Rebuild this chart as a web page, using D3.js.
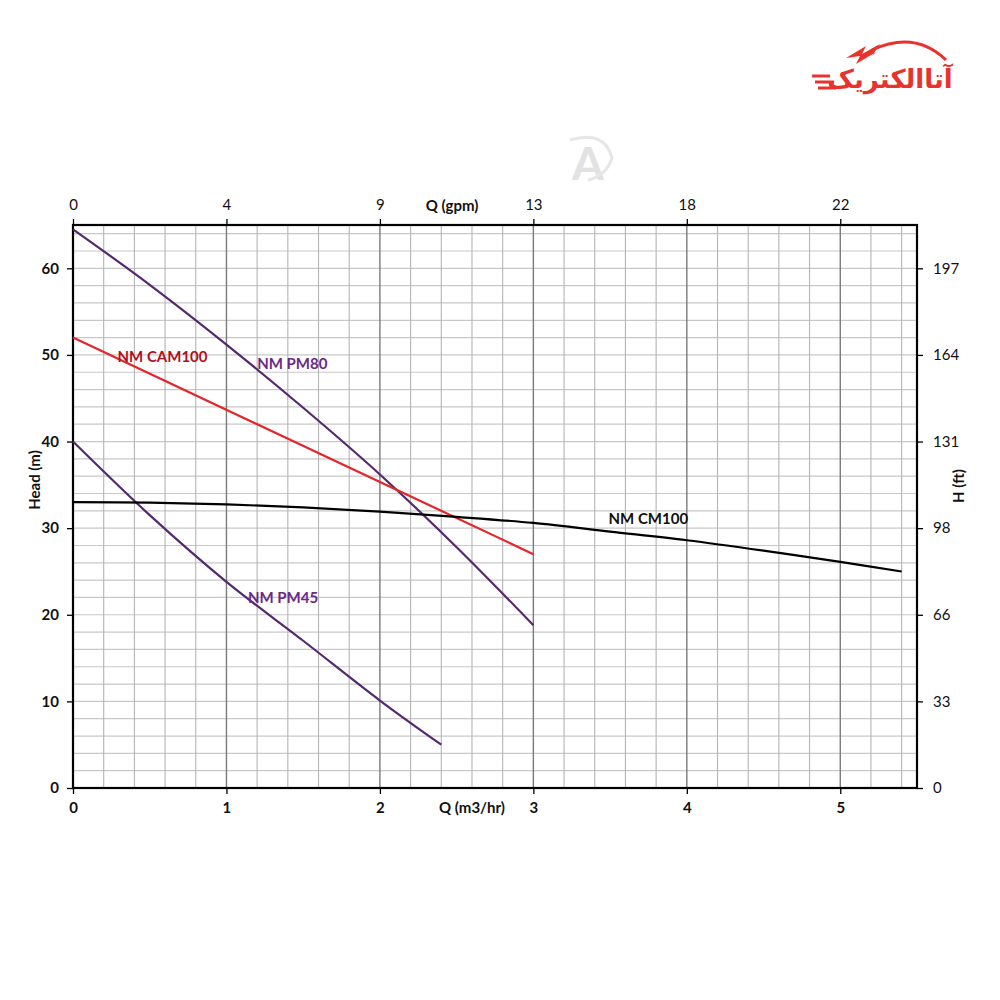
<!DOCTYPE html>
<html><head><meta charset="utf-8">
<script src="https://cdn.jsdelivr.net/npm/d3@7"></script>
<style>body{margin:0;background:#fff}svg{display:block}</style>
</head><body>
<svg id="c" width="1000" height="1000"></svg>
<script>
// ---- data ----
const bottomTicks = [0, 1, 2, 3, 4, 5];
const gpmLabels = ["0", "4", "9", "13", "18", "22"];
const leftTicks = [0, 10, 20, 30, 40, 50, 60];
const ftLabels = ["0", "33", "66", "98", "131", "164", "197"];

const pm80Q = [0, 0.5, 1, 1.5, 2, 2.5, 3];
const pm80H = [64.5, 58.1, 51.2, 43.9, 36.2, 27.8, 18.8];

const cam100Q = [0, 3];
const cam100H = [52, 27];

const pm45Q = [0, 0.5, 1, 1.5, 2, 2.4];
const pm45H = [40, 31.5, 23.8, 17.0, 10.1, 5.0];

const cm100Q = [0, 0.5, 1, 1.5, 2, 2.5, 3, 3.5, 4, 4.5, 5, 5.4];
const cm100H = [33.0, 32.95, 32.75, 32.4, 31.9, 31.3, 30.6, 29.6, 28.6, 27.4, 26.1, 25.0];

const seriesNames = ["NM PM80", "NM CAM100", "NM PM45", "NM CM100"];

// ---- chart ----
const svg = d3.select("#c");
const L = 73, R = 917, T = 225, B = 788;
const x = d3.scaleLinear().domain([0, 5.5]).range([L, R]);
const y = d3.scaleLinear().domain([0, 65]).range([B, T]);
const font = "Lato, 'Open Sans', sans-serif";

// grid
const g = svg.append("g");
d3.range(0, 66, 2).forEach(v => {
  g.append("line").attr("x1", L).attr("x2", R).attr("y1", y(v)).attr("y2", y(v))
    .attr("stroke", "#c8c8c8").attr("stroke-width", 1.2);
});
d3.range(0, 28).map(i => +(i * 0.2).toFixed(1)).forEach(v => {
  const major = Math.abs(v - Math.round(v)) < 1e-6;
  g.append("line").attr("x1", x(v)).attr("x2", x(v)).attr("y1", T).attr("y2", B)
    .attr("stroke", major ? "#7a7a7a" : "#b4b4b4").attr("stroke-width", major ? 1.4 : 1.1);
});

// axes
function styleAxis(sel, bold, size) {
  sel.select(".domain").remove();
  sel.selectAll(".tick line").attr("stroke", "#000").attr("stroke-width", 1.3);
  sel.selectAll(".tick text").attr("fill", "#111").style("font-family", font)
    .style("font-size", size + "px").style("font-weight", bold ? "700" : "400");
}
svg.append("g").attr("transform", `translate(0,${B})`)
  .call(d3.axisBottom(x).tickValues(bottomTicks).tickFormat(d3.format("d")).tickSize(6).tickPadding(8))
  .call(s => styleAxis(s, true, 15));
svg.append("g").attr("transform", `translate(0,${T})`)
  .call(d3.axisTop(x).tickValues(bottomTicks).tickFormat((d, i) => gpmLabels[i]).tickSize(6).tickPadding(9))
  .call(s => styleAxis(s, false, 15));
svg.append("g").attr("transform", `translate(${L},0)`)
  .call(d3.axisLeft(y).tickValues(leftTicks).tickFormat(d3.format("d")).tickSize(6).tickPadding(8))
  .call(s => styleAxis(s, true, 15));
svg.append("g").attr("transform", `translate(${R},0)`)
  .call(d3.axisRight(y).tickValues(leftTicks).tickFormat((d, i) => ftLabels[i]).tickSize(6).tickPadding(10))
  .call(s => styleAxis(s, false, 15));

// frame
svg.append("rect").attr("x", L).attr("y", T).attr("width", R - L).attr("height", B - T)
  .attr("fill", "none").attr("stroke", "#000").attr("stroke-width", 2.2);

// curves
const line = d3.line().x(d => x(d[0])).y(d => y(d[1])).curve(d3.curveCatmullRom);
const zip = (a, b) => a.map((v, i) => [v, b[i]]);
const curves = [
  { q: pm80Q, h: pm80H, c: "#55296e" },
  { q: cam100Q, h: cam100H, c: "#e3262b" },
  { q: pm45Q, h: pm45H, c: "#55296e" },
  { q: cm100Q, h: cm100H, c: "#000" }
];
curves.forEach(cv => {
  svg.append("path").attr("d", line(zip(cv.q, cv.h))).attr("fill", "none")
    .attr("stroke", cv.c).attr("stroke-width", 2.2);
});

// curve labels
const labels = [
  { t: seriesNames[0], q: 1.2, h: 48.4, c: "#6a2a86" },
  { t: seriesNames[1], q: 0.29, h: 49.2, c: "#b01020" },
  { t: seriesNames[2], q: 1.14, h: 21.4, c: "#6a2a86" },
  { t: seriesNames[3], q: 3.49, h: 30.5, c: "#111" }
];
labels.forEach(l => {
  svg.append("text").attr("x", x(l.q)).attr("y", y(l.h)).text(l.t)
    .attr("fill", l.c).style("font-family", font).style("font-size", "15px").style("font-weight", "700");
});

// axis titles
const title = (t, tx, ty, rot) => svg.append("text").text(t)
  .attr("transform", `translate(${tx},${ty}) rotate(${rot})`).attr("text-anchor", "middle")
  .attr("fill", "#111").style("font-family", font).style("font-size", "15px").style("font-weight", "700");
title("Q (gpm)", 452, 211, 0);
title("Q (m3/hr)", 472, 813, 0);
title("Head (m)", 40, 480, -90);
title("H (ft)", 964, 486, -90);

// logo (top right)
const logo = svg.append("g");
logo.append("path").attr("d", "M872,50 Q915,30 946,60").attr("fill", "none")
  .attr("stroke", "#e8322b").attr("stroke-width", 3);
logo.append("path").attr("d", "M846,58 L866,46 L862,54 L880,44 L872,56 L876,52 L856,64 L860,56 Z").attr("fill", "#e8322b");
[[812, 76, 830], [815, 82, 834], [818, 88, 836]].forEach(a =>
  logo.append("line").attr("x1", a[0]).attr("x2", a[2]).attr("y1", a[1]).attr("y2", a[1])
    .attr("stroke", "#e8322b").attr("stroke-width", 3));
logo.append("text").attr("x", 890).attr("y", 88).attr("text-anchor", "middle")
  .text("آتاالکتریک").attr("fill", "#e8322b")
  .style("font-family", "'DejaVu Sans', sans-serif").style("font-size", "26px").style("font-weight", "700");

// faint watermark
svg.append("text").attr("x", 588).attr("y", 180).attr("text-anchor", "middle").text("A")
  .attr("fill", "#e2e2e2").style("font-family", font).style("font-size", "46px").style("font-weight", "700");
svg.append("path").attr("d", "M570,140 Q605,130 612,158 Q606,176 588,180").attr("fill", "none")
  .attr("stroke", "#e6e6e6").attr("stroke-width", 3);
</script>
</body></html>
